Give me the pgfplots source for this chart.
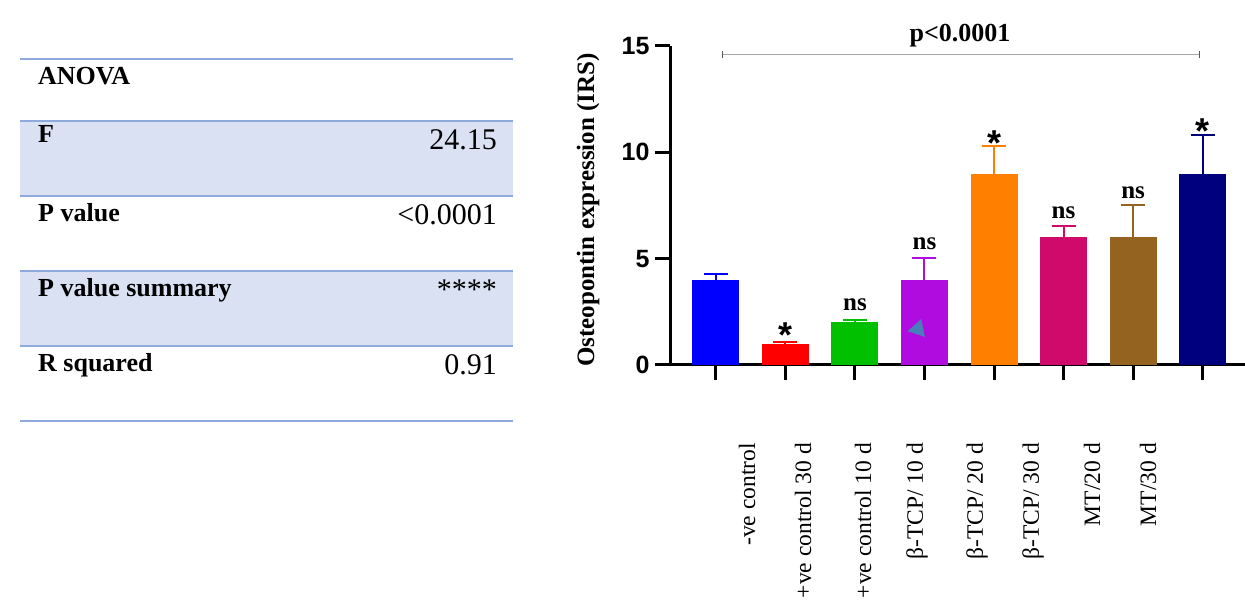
\documentclass[border=0pt]{standalone}
\usepackage{fontspec}
\setmainfont{Liberation Serif}
\setsansfont{Liberation Sans}
\usepackage{pgfplots}
\pgfplotsset{compat=1.18}
\definecolor{tline}{HTML}{8EA9DB}
\definecolor{tfill}{HTML}{D9E1F2}
\definecolor{cA}{HTML}{0000FF}
\definecolor{cB}{HTML}{FF0000}
\definecolor{cC}{HTML}{00C000}
\definecolor{cD}{HTML}{B00CE0}
\definecolor{cE}{HTML}{FF8000}
\definecolor{cF}{HTML}{D00A6B}
\definecolor{cG}{HTML}{956320}
\definecolor{cH}{HTML}{00007F}
\definecolor{tri}{HTML}{4A7EBB}
\pgfplotsset{mybar/.style={ybar, bar width=47pt, bar shift=0pt, fill=#1, draw=none,
  error bars/y dir=plus, error bars/y explicit,
  error bars/error bar style={#1, line width=2pt},
  error bars/error mark options={rotate=90, mark size=12pt, line width=2pt, #1}}}
\newcommand{\tlab}{\fontsize{26}{26}\selectfont\bfseries}
\newcommand{\tnum}{\fontsize{30}{30}\selectfont}
\newcommand{\myast}{\fontsize{36}{36}\selectfont\sffamily\bfseries *}
\newcommand{\myns}{\fontsize{25}{25}\selectfont\bfseries ns}
\begin{document}
\begin{tikzpicture}[x=1pt,y=1pt]
% ANOVA table
\fill[tfill] (20,479) rectangle (513,404);
\fill[tfill] (20,329) rectangle (513,254);
\foreach \yy in {541,479,404,329,254,179} \draw[tline, line width=2pt] (20,\yy) -- (513,\yy);
\node[anchor=base west, inner sep=0] at (38,515) {\tlab ANOVA};
\node[anchor=base west, inner sep=0] at (38,457) {\tlab F};
\node[anchor=base east, inner sep=0] at (497,450) {\tnum 24.15};
\node[anchor=base west, inner sep=0] at (38,378) {\tlab P value};
\node[anchor=base east, inner sep=0] at (497,375) {\tnum <0.0001};
\node[anchor=base west, inner sep=0] at (38,303) {\tlab P value summary};
\node[anchor=base east, inner sep=0] at (497,300) {\tnum ****};
\node[anchor=base west, inner sep=0] at (38,228) {\tlab R squared};
\node[anchor=base east, inner sep=0] at (497,225) {\tnum 0.91};
% y label
\node[rotate=90] at (588,390) {\fontsize{25}{25}\selectfont\bfseries Osteopontin expression (IRS)};
% x labels
\foreach \xx/\tt in {747/{-ve control},803/{+ve control 30 d},863/{+ve control 10 d},917/{β-TCP/ 10 d},977/{β-TCP/ 20 d},1033/{β-TCP/ 30 d},1092/{MT/20 d},1148/{MT/30 d}}
  \node[rotate=90, anchor=east, inner sep=0] at (\xx,157) {\fontsize{23.5}{23.5}\selectfont \tt};
\begin{axis}[
  at={(670pt,235pt)}, anchor=south west, scale only axis,
  width=575pt, height=319pt,
  xmin=-0.66, xmax=7.61, ymin=0, ymax=15,
  axis x line=bottom, axis y line=left,
  axis line style={-, line width=3pt, black},
  xtick={0,...,7}, xticklabels={},
  ytick={0,5,10,15},
  tick align=outside, major tick length=15pt,
  tick style={line width=3pt, black},
  yticklabel style={font=\fontsize{25}{25}\selectfont\sffamily\bfseries, xshift=-2pt},
  /pgf/number format/assume math mode=true,
  clip=false,
]
\addplot[mybar=cA] coordinates {(0,4) +- (0,0.28)};
\addplot[mybar=cB] coordinates {(1,1) +- (0,0.08)};
\addplot[mybar=cC] coordinates {(2,2) +- (0,0.1)};
\addplot[mybar=cD] coordinates {(3,4) +- (0,1.05)};
\addplot[mybar=cE] coordinates {(4,9) +- (0,1.3)};
\addplot[mybar=cF] coordinates {(5,6) +- (0,0.55)};
\addplot[mybar=cG] coordinates {(6,6) +- (0,1.5)};
\addplot[mybar=cH] coordinates {(7,9) +- (0,1.8)};
\addplot[only marks, mark=triangle*, mark size=10pt, color=tri, mark options={rotate=-18}] coordinates {(2.905,1.69)};
% significance line
\addplot[gray!70, line width=1.2pt] coordinates {(0.1,14.61) (6.96,14.61)};
\addplot[gray!70!black, line width=1.2pt] coordinates {(0.1,14.45) (0.1,14.77)};
\addplot[gray!70!black, line width=1.2pt] coordinates {(6.96,14.45) (6.96,14.77)};
\node[anchor=base] at (axis cs:3.51,15.19) {\fontsize{26}{26}\selectfont\bfseries p<0.0001};
% annotations
\node[anchor=base, inner sep=0] at (axis cs:1,0.80) {\myast};
\node[anchor=base, inner sep=0] at (axis cs:2,2.54) {\myns};
\node[anchor=base, inner sep=0] at (axis cs:3,5.44) {\myns};
\node[anchor=base, inner sep=0] at (axis cs:4,9.83) {\myast};
\node[anchor=base, inner sep=0] at (axis cs:5,6.88) {\myns};
\node[anchor=base, inner sep=0] at (axis cs:6,7.84) {\myns};
\node[anchor=base, inner sep=0] at (axis cs:7,10.42) {\myast};
\end{axis}
\pgfresetboundingbox
\useasboundingbox (0,0) rectangle (1245,600);
\end{tikzpicture}
\end{document}
